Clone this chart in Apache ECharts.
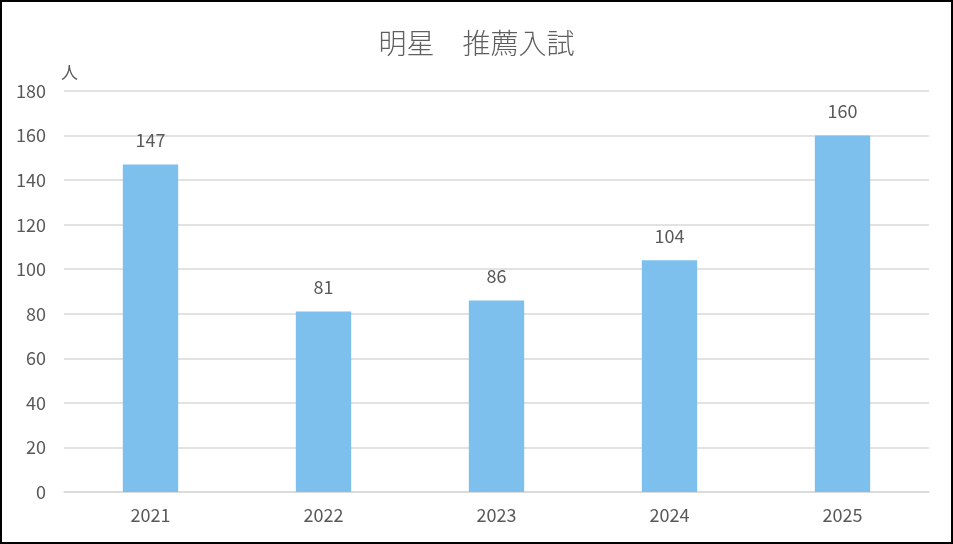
<!DOCTYPE html>
<html><head><meta charset="utf-8">
<script src="https://cdn.jsdelivr.net/npm/echarts@6/dist/echarts.min.js"></script>
<style>
html,body{margin:0;padding:0;background:#fff;}
#wrap{position:relative;width:953px;height:544px;}
#c{width:953px;height:544px;}
#frame{position:absolute;left:0;top:0;width:953px;height:544px;box-sizing:border-box;border:2px solid #000;pointer-events:none;}
</style></head>
<body>
<div id="wrap"><div id="c"></div><div id="frame"></div></div>
<script>
const titleText = '明星　推薦入試';
const categories = ['2021', '2022', '2023', '2024', '2025'];
const values = [147, 81, 86, 104, 160];
const yName = '人';
const yMin = 0, yMax = 180, yStep = 20;

const font = '"Noto Sans CJK JP", "Noto Sans", sans-serif';
const chart = echarts.init(document.getElementById('c'));
chart.setOption({
  animation: false,
  title: {
    text: titleText, left: 'center', top: 24,
    textStyle: { fontFamily: font, fontSize: 28, fontWeight: 300, color: '#5f5f5f' }
  },
  grid: { left: 64, right: 24, top: 91, bottom: 52 },
  xAxis: {
    type: 'category', data: categories,
    axisLine: { lineStyle: { color: '#d9d9d9', width: 1.5 } },
    axisTick: { show: false },
    axisLabel: { fontFamily: font, fontSize: 18, color: '#595959', margin: 14 }
  },
  yAxis: {
    type: 'value', min: yMin, max: yMax, interval: yStep,
    name: yName, nameLocation: 'end', nameGap: 10,
    nameTextStyle: { fontFamily: font, fontSize: 17, color: '#595959', align: 'left', padding: [0, 0, 0, -3] },
    axisLine: { show: false }, axisTick: { show: false },
    axisLabel: { fontFamily: font, fontSize: 18, color: '#595959', margin: 18 },
    splitLine: { lineStyle: { color: '#d9d9d9', width: 1.5 } }
  },
  series: [{
    type: 'bar', data: values, barWidth: '32%',
    itemStyle: { color: '#7DC0EE' },
    label: { show: true, position: 'top', distance: 15, fontFamily: font, fontSize: 18, color: '#595959' }
  }]
});
</script>
</body></html>
